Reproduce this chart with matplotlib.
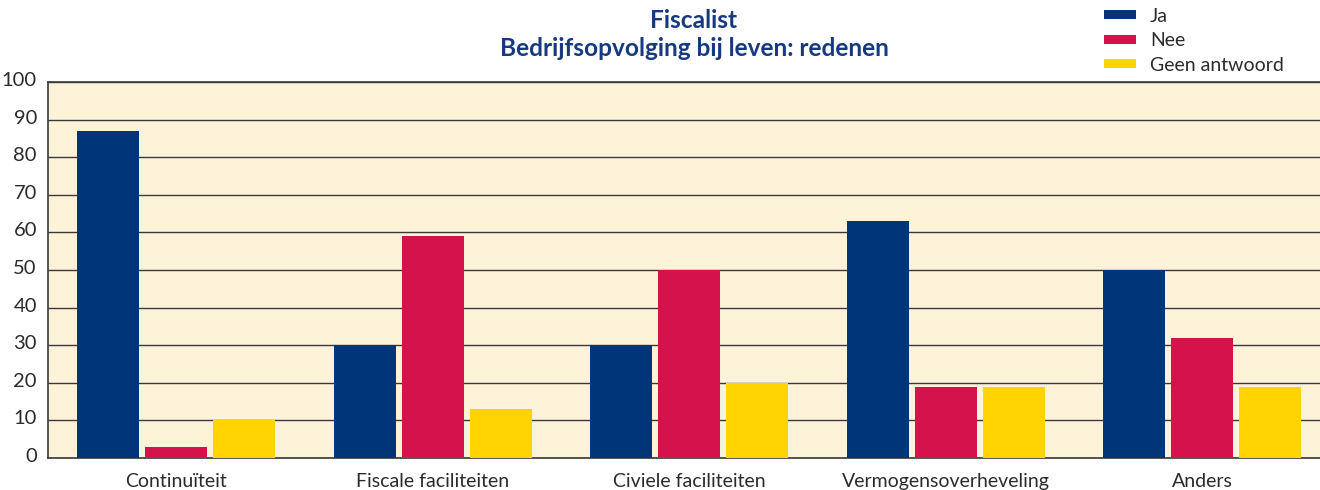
import matplotlib
matplotlib.use('Agg')
import matplotlib.pyplot as plt
import matplotlib.transforms as mtransforms
import numpy as np

plt.rcParams['font.family'] = ['Lato', 'DejaVu Sans']

categories = ['Continuïteit', 'Fiscale faciliteiten', 'Civiele faciliteiten',
              'Vermogensoverheveling', 'Anders']
ja = [87, 30, 30, 63, 50]
nee = [3, 59, 50, 19, 32]
geen = [10, 13, 20, 19, 19]
series_names = ['Ja', 'Nee', 'Geen antwoord']
colors = ['#00357a', '#d4124b', '#ffd400']
title_color = '#16397f'

fig = plt.figure(figsize=(13.2, 4.9), dpi=100)
ax = fig.add_axes([48 / 1320, 32 / 490, 1 - 48 / 1320, 376 / 490])
ax.set_facecolor('#fdf3d9')

x = np.arange(len(categories))
width = 0.242
step = 0.265
for i, (vals, name) in enumerate(zip([ja, nee, geen], series_names)):
    ax.bar(x + (i - 1) * step, vals, width=width, color=colors[i], label=name,
           linewidth=0, zorder=3)

ax.set_xlim(-0.5, 4.46)
ax.set_ylim(0, 100)
ax.set_yticks(np.arange(0, 101, 10))
ax.set_xticks(x)
ax.set_xticklabels(categories)
ax.yaxis.grid(True, color='#3a3a3a', linewidth=1.0, zorder=1)
ax.set_axisbelow(True)
ax.tick_params(axis='y', length=0, pad=8, labelsize=14.5, labelcolor='#2b2b2b')
ax.tick_params(axis='x', length=0, pad=11, labelsize=14, labelcolor='#2b2b2b')
# y labels sit a little above their grid lines
shift = mtransforms.ScaledTranslation(0, 3 / 100, fig.dpi_scale_trans)
for lbl in ax.get_yticklabels():
    lbl.set_transform(lbl.get_transform() + shift)
for side in ['left', 'top', 'bottom']:
    ax.spines[side].set_color('#3a3a3a')
    ax.spines[side].set_linewidth(1.2)
ax.spines['right'].set_visible(False)

fig.text(0.5258, 0.958, 'Fiscalist', ha='center', va='center', fontsize=17.6,
         fontweight='bold', color=title_color)
fig.text(0.5258, 0.901, 'Bedrijfsopvolging bij leven: redenen', ha='center', va='center',
         fontsize=17.6, fontweight='bold', color=title_color)

fig.legend(loc='upper left', bbox_to_anchor=(1094 / 1320, 1.004), frameon=False,
           fontsize=14, handlelength=1.65, handleheight=0.36, labelspacing=0.38,
           handletextpad=0.72, borderaxespad=0.1, labelcolor='#2b2b2b')

fig.savefig('out.png', dpi=100)
